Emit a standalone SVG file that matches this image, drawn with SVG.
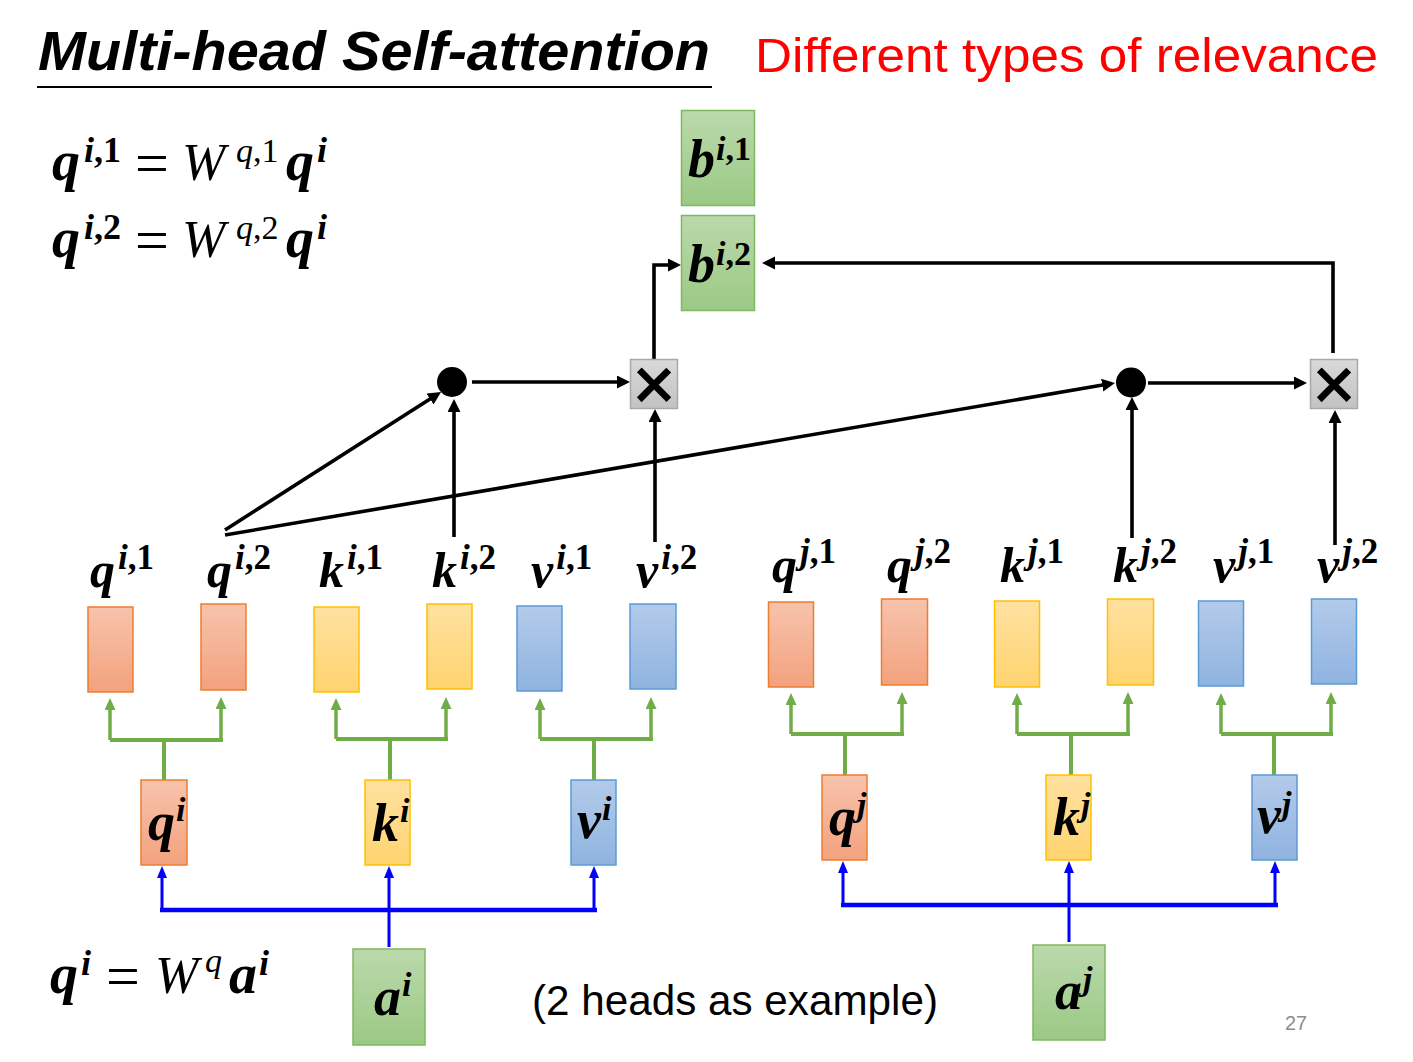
<svg xmlns="http://www.w3.org/2000/svg" width="1413" height="1062" viewBox="0 0 1413 1062">
<defs>
<linearGradient id="gO" x1="0" y1="0" x2="0" y2="1"><stop offset="0" stop-color="#f7c3ac"/><stop offset="1" stop-color="#f3a27e"/></linearGradient>
<linearGradient id="gY" x1="0" y1="0" x2="0" y2="1"><stop offset="0" stop-color="#ffe1a0"/><stop offset="1" stop-color="#ffd470"/></linearGradient>
<linearGradient id="gB" x1="0" y1="0" x2="0" y2="1"><stop offset="0" stop-color="#b3cbea"/><stop offset="1" stop-color="#8fb3e0"/></linearGradient>
<linearGradient id="gG" x1="0" y1="0" x2="0" y2="1"><stop offset="0" stop-color="#bbd9ab"/><stop offset="1" stop-color="#9bc985"/></linearGradient>
<linearGradient id="gX" x1="0" y1="0" x2="0" y2="1"><stop offset="0" stop-color="#dadada"/><stop offset="1" stop-color="#c2c2c2"/></linearGradient>
<marker id="ak" markerUnits="userSpaceOnUse" markerWidth="14" markerHeight="14" refX="5" refY="6.5" orient="auto"><path d="M0,0 L13,6.5 L0,13 z" fill="#000"/></marker>
<marker id="ag" markerUnits="userSpaceOnUse" markerWidth="12" markerHeight="12" refX="4" refY="5.5" orient="auto"><path d="M0,0 L12,5.5 L0,11 z" fill="#70ad47"/></marker>
<marker id="ab" markerUnits="userSpaceOnUse" markerWidth="12" markerHeight="12" refX="4" refY="5" orient="auto"><path d="M0,0 L12,5 L0,10 z" fill="#0000ff"/></marker>
</defs>
<style>
.m{font-family:"Liberation Serif","DejaVu Serif",serif;font-weight:bold;font-style:italic;fill:#000}
.w{font-family:"Liberation Serif","DejaVu Serif",serif;font-weight:normal;font-style:italic;fill:#000}
.eq{font-family:"Liberation Serif","DejaVu Serif",serif;font-weight:normal;font-style:normal;fill:#000}
.up{font-style:normal}
.o{fill:url(#gO);stroke:#ed7d31;stroke-width:1.5}
.y{fill:url(#gY);stroke:#ffc000;stroke-width:1.5}
.b{fill:url(#gB);stroke:#5b9bd5;stroke-width:1.5}
.g{fill:url(#gG);stroke:#7fb95f;stroke-width:1.5}
.x{fill:url(#gX);stroke:#a9a9a9;stroke-width:1.5}
.xs{font-family:"Liberation Sans",Arial,sans-serif;font-size:72px;fill:#000;stroke:#000;stroke-width:1.6}
.k{fill:none;stroke:#000;stroke-width:3.6}
.ka{fill:none;stroke:#000;stroke-width:3.6;marker-end:url(#ak)}
.gl{fill:none;stroke:#70ad47;stroke-width:4}
.ga{fill:none;stroke:#70ad47;stroke-width:3.5;marker-end:url(#ag)}
.bl{fill:none;stroke:#0000ff;stroke-width:4.5}
.ba{fill:none;stroke:#0000ff;stroke-width:3;marker-end:url(#ab)}
</style>
<rect width="1413" height="1062" fill="#fff"/>

<g id="title">
<text x="38" y="70" font-family="Liberation Sans, Arial, sans-serif" font-weight="bold" font-style="italic" font-size="56" textLength="672" lengthAdjust="spacingAndGlyphs">Multi-head Self-attention</text>
<line x1="37" y1="87" x2="712" y2="87" stroke="#000" stroke-width="2"/>
</g>
<g id="subtitle">
<text x="755" y="72" font-family="Liberation Sans, Arial, sans-serif" font-size="49" fill="#ff0000" textLength="623" lengthAdjust="spacingAndGlyphs">Different types of relevance</text>
</g>

<g id="equation-1">
<text class="m" x="52" y="180" font-size="56">q</text>
<text class="m" x="84" y="162" font-size="36">i<tspan class="up">,1</tspan></text>
<text class="eq" x="135" y="183" font-size="60">=</text>
<text class="w" x="182" y="180" font-size="52">W</text>
<text class="w" x="236" y="162" font-size="34">q<tspan class="up">,1</tspan></text>
<text class="m" x="286" y="180" font-size="56">q</text>
<text class="m" x="317" y="162" font-size="36">i</text>
</g>
<g id="equation-2">
<text class="m" x="52" y="257" font-size="56">q</text>
<text class="m" x="84" y="239" font-size="36">i<tspan class="up">,2</tspan></text>
<text class="eq" x="135" y="260" font-size="60">=</text>
<text class="w" x="182" y="257" font-size="52">W</text>
<text class="w" x="236" y="239" font-size="34">q<tspan class="up">,2</tspan></text>
<text class="m" x="286" y="257" font-size="56">q</text>
<text class="m" x="317" y="239" font-size="36">i</text>
</g>
<g id="equation-3">
<text class="m" x="50" y="993" font-size="56">q</text>
<text class="m" x="81" y="975" font-size="36">i</text>
<text class="eq" x="106" y="996" font-size="60">=</text>
<text class="w" x="155" y="993" font-size="52">W</text>
<text class="w" x="205" y="972" font-size="34">q</text>
<text class="m" x="229" y="993" font-size="56">a</text>
<text class="m" x="259" y="975" font-size="36">i</text>
</g>

<g id="connectors">
<!-- black -->
<path class="ka" d="M472,382 H622"/>
<path class="ka" d="M225,530 L434.3,396.3"/>
<path class="ka" d="M225,535 L1107.1,384.3"/>
<path class="ka" d="M454,537 V407"/>
<path class="ka" d="M655,542 V417"/>
<path class="ka" d="M654,359 V265 H673"/>
<path class="ka" d="M1148,383 H1299"/>
<path class="ka" d="M1132,538 V405"/>
<path class="ka" d="M1335,545 V418"/>
<path class="ka" d="M1333,353 V263 H770"/>
<!-- green i -->
<path class="ga" d="M110,740 V706"/><path class="ga" d="M221,740 V705"/><path class="gl" d="M110,740 H223 M164,740 V780"/>
<path class="ga" d="M336,739 V706"/><path class="ga" d="M446,739 V705"/><path class="gl" d="M336,739 H448 M390,739 V780"/>
<path class="ga" d="M540,739 V706"/><path class="ga" d="M651,739 V705"/><path class="gl" d="M540,739 H653 M594,739 V780"/>
<!-- green j -->
<path class="ga" d="M791,734 V701"/><path class="ga" d="M902,734 V700"/><path class="gl" d="M791,734 H904 M845,734 V775"/>
<path class="ga" d="M1017,734 V701"/><path class="ga" d="M1128,734 V700"/><path class="gl" d="M1017,734 H1130 M1071,734 V775"/>
<path class="ga" d="M1221,734 V701"/><path class="ga" d="M1331,734 V700"/><path class="gl" d="M1221,734 H1333 M1274,734 V775"/>
<!-- blue -->
<path class="bl" d="M160,910 H597"/>
<path class="ba" d="M162,910 V874"/><path class="ba" d="M594,910 V874"/><path class="ba" d="M389,947 V874"/>
<path class="bl" d="M841,905 H1278"/>
<path class="ba" d="M843,905 V869"/><path class="ba" d="M1275,905 V869"/><path class="ba" d="M1069,942 V869"/>
</g>

<g id="b-i-1"><rect class="g" x="681.5" y="110.5" width="73" height="95"/><text class="m" x="688" y="177" font-size="54">b</text><text class="m" x="716" y="160" font-size="34">i<tspan class="up">,1</tspan></text></g>
<g id="b-i-2"><rect class="g" x="681.5" y="215.5" width="73" height="95"/><text class="m" x="688" y="282" font-size="54">b</text><text class="m" x="716" y="265" font-size="34">i<tspan class="up">,2</tspan></text></g>

<g id="mult-1"><rect class="x" x="630.5" y="359.5" width="47" height="49"/><text class="xs" x="654" y="409" text-anchor="middle">×</text></g>
<g id="mult-2"><rect class="x" x="1310.5" y="359.5" width="47" height="49"/><text class="xs" x="1334" y="409" text-anchor="middle">×</text></g>
<g id="dot-1"><circle cx="452" cy="382" r="15" fill="#000"/></g>
<g id="dot-2"><circle cx="1131" cy="382.5" r="15" fill="#000"/></g>

<g id="q-i-1"><rect class="o" x="88" y="607" width="45" height="85"/><text class="m" x="90" y="587" font-size="50">q<tspan dx="3" dy="-18" font-size="35">i</tspan><tspan class="up" font-size="35">,1</tspan></text></g>
<g id="q-i-2"><rect class="o" x="201" y="604" width="45" height="86"/><text class="m" x="207" y="587" font-size="50">q<tspan dx="3" dy="-18" font-size="35">i</tspan><tspan class="up" font-size="35">,2</tspan></text></g>
<g id="k-i-1"><rect class="y" x="314" y="607" width="45" height="85"/><text class="m" x="319" y="587" font-size="50">k<tspan dx="3" dy="-18" font-size="35">i</tspan><tspan class="up" font-size="35">,1</tspan></text></g>
<g id="k-i-2"><rect class="y" x="427" y="604" width="45" height="85"/><text class="m" x="432" y="587" font-size="50">k<tspan dx="3" dy="-18" font-size="35">i</tspan><tspan class="up" font-size="35">,2</tspan></text></g>
<g id="v-i-1"><rect class="b" x="517" y="606" width="45" height="85"/><text class="m" x="531" y="587" font-size="50">v<tspan dx="3" dy="-18" font-size="35">i</tspan><tspan class="up" font-size="35">,1</tspan></text></g>
<g id="v-i-2"><rect class="b" x="630" y="604" width="46" height="85"/><text class="m" x="636" y="587" font-size="50">v<tspan dx="3" dy="-18" font-size="35">i</tspan><tspan class="up" font-size="35">,2</tspan></text></g>

<g id="q-j-1"><rect class="o" x="768.5" y="602" width="45" height="85"/><text class="m" x="772" y="582" font-size="50">q<tspan dx="3" dy="-19" font-size="35">j</tspan><tspan class="up" font-size="35">,1</tspan></text></g>
<g id="q-j-2"><rect class="o" x="881.5" y="599" width="46" height="86"/><text class="m" x="887" y="582" font-size="50">q<tspan dx="3" dy="-19" font-size="35">j</tspan><tspan class="up" font-size="35">,2</tspan></text></g>
<g id="k-j-1"><rect class="y" x="994.5" y="601" width="45" height="86"/><text class="m" x="1000" y="582" font-size="50">k<tspan dx="3" dy="-19" font-size="35">j</tspan><tspan class="up" font-size="35">,1</tspan></text></g>
<g id="k-j-2"><rect class="y" x="1107.5" y="599" width="46" height="86"/><text class="m" x="1113" y="582" font-size="50">k<tspan dx="3" dy="-19" font-size="35">j</tspan><tspan class="up" font-size="35">,2</tspan></text></g>
<g id="v-j-1"><rect class="b" x="1198.5" y="601" width="45" height="85"/><text class="m" x="1213" y="582" font-size="50">v<tspan dx="3" dy="-19" font-size="35">j</tspan><tspan class="up" font-size="35">,1</tspan></text></g>
<g id="v-j-2"><rect class="b" x="1311.5" y="599" width="45" height="85"/><text class="m" x="1317" y="582" font-size="50">v<tspan dx="3" dy="-19" font-size="35">j</tspan><tspan class="up" font-size="35">,2</tspan></text></g>

<g id="q-i"><rect class="o" x="141" y="780" width="46" height="85"/><text class="m" x="148" y="840" font-size="54">q<tspan dx="1" dy="-19" font-size="34">i</tspan></text></g>
<g id="k-i"><rect class="y" x="365" y="780" width="45" height="85"/><text class="m" x="372" y="841" font-size="54">k<tspan dx="1" dy="-19" font-size="34">i</tspan></text></g>
<g id="v-i"><rect class="b" x="571" y="780" width="45" height="85"/><text class="m" x="577" y="838" font-size="54">v<tspan dx="1" dy="-18" font-size="34">i</tspan></text></g>
<g id="q-j"><rect class="o" x="822" y="775" width="45" height="85"/><text class="m" x="829" y="835" font-size="54">q<tspan dx="1" dy="-19" font-size="34">j</tspan></text></g>
<g id="k-j"><rect class="y" x="1046" y="775" width="45" height="85"/><text class="m" x="1053" y="835" font-size="54">k<tspan dx="1" dy="-19" font-size="34">j</tspan></text></g>
<g id="v-j"><rect class="b" x="1252" y="775" width="45" height="85"/><text class="m" x="1257" y="833" font-size="54">v<tspan dx="1" dy="-18" font-size="34">j</tspan></text></g>

<g id="a-i"><rect class="g" x="353" y="949" width="72" height="96"/><text class="m" x="374" y="1015" font-size="54">a<tspan dx="1" dy="-19" font-size="34">i</tspan></text></g>
<g id="a-j"><rect class="g" x="1033" y="945" width="72" height="95"/><text class="m" x="1055" y="1009" font-size="54">a<tspan dx="1" dy="-19" font-size="34">j</tspan></text></g>

<g id="note"><text x="532" y="1015" font-family="Liberation Sans, Arial, sans-serif" font-size="42" fill="#000" textLength="406" lengthAdjust="spacingAndGlyphs">(2 heads as example)</text></g>
<g id="page-number"><text x="1285" y="1030" font-family="Liberation Sans, Arial, sans-serif" font-size="20" fill="#8c8c8c" textLength="22" lengthAdjust="spacingAndGlyphs">27</text></g>
</svg>
